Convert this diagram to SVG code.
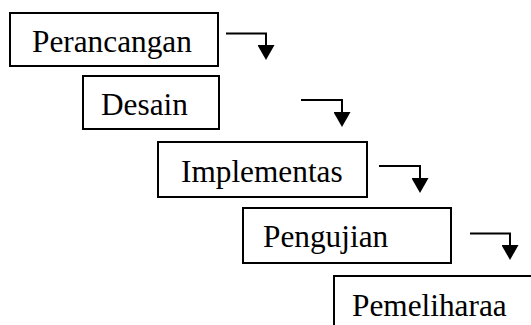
<svg xmlns="http://www.w3.org/2000/svg" width="531" height="325" viewBox="0 0 531 325">
<defs>
<style>
.box{fill:#fff;stroke:#000;stroke-width:2}
.lbl{font-family:"Liberation Serif","Times New Roman",serif;font-size:31.3px;fill:#000}
.con{fill:none;stroke:#000;stroke-width:2}
</style>
<marker id="ah" markerWidth="17" markerHeight="15" refX="8.5" refY="0" orient="0" markerUnits="userSpaceOnUse" viewBox="0 0 17 15">
<path d="M0,0 L17,0 L8.5,15 Z" fill="#000"/>
</marker>
</defs>
<rect width="531" height="325" fill="#fff"/>
<g id="perancangan"><rect class="box" x="10" y="13" width="208" height="53"/><text class="lbl" x="32" y="52">Perancangan</text></g>
<g id="desain"><rect class="box" x="83" y="76" width="136" height="53"/><text class="lbl" x="101" y="115">Desain</text></g>
<g id="implementas"><rect class="box" x="158" y="142" width="209" height="55"/><text class="lbl" x="181" y="182">Implementas</text></g>
<g id="pengujian"><rect class="box" x="243" y="208" width="208" height="55"/><text class="lbl" x="263" y="247">Pengujian</text></g>
<g id="pemeliharaa"><rect class="box" x="334" y="276" width="220" height="70"/><text class="lbl" x="352" y="316">Pemeliharaa</text></g>
<g id="connectors">
<path class="con" d="M226,33.5 H266 V45" marker-end="url(#ah)"/>
<path class="con" d="M301,100 H342 V112" marker-end="url(#ah)"/>
<path class="con" d="M379,166 H420 V178" marker-end="url(#ah)"/>
<path class="con" d="M470,233.5 H510 V245" marker-end="url(#ah)"/>
</g>
</svg>
